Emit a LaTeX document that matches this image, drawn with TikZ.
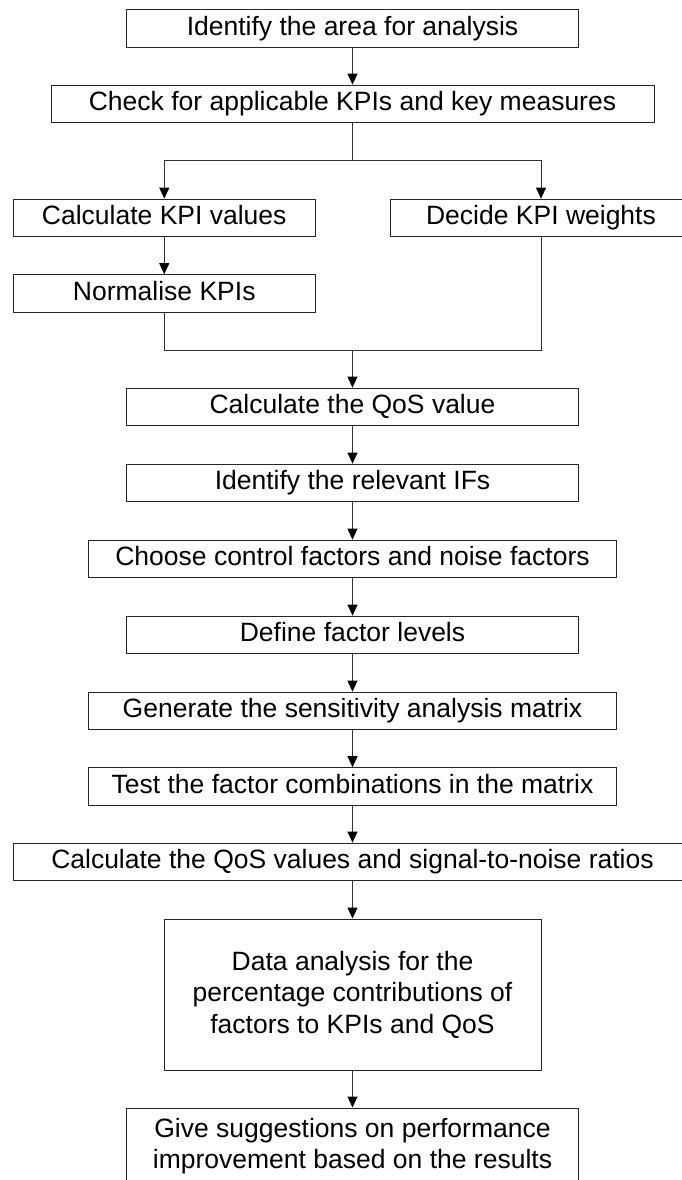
\documentclass[tikz,border=0pt]{standalone}
\usepackage{fontspec}
\setmainfont{Liberation Sans}
\usetikzlibrary{arrows.meta}
\begin{document}
\begin{tikzpicture}[x=1pt,y=-1pt,
  box/.style={draw=black!85, line width=1pt, rectangle, inner sep=0pt,
    minimum height=37.7pt, align=center,
    font=\fontsize{26.5}{31.5}\selectfont},
  onerow/.style={box, text height=19.3pt, text depth=5.6pt},
  link/.style={draw=black!80, line width=1pt},
  arr/.style={link, -{Triangle[length=11pt,width=10pt,color=black]}}]
\clip (0,0) rectangle (682,1180);
\useasboundingbox (0,0) rectangle (682,1180);
% main column of steps
\node[onerow, minimum width=452.5pt] (id) at (352.5,28.2) {Identify the area for analysis};
\node[onerow, minimum width=603pt] (check) at (352.5,104) {Check for applicable KPIs and key measures};
\node[onerow, minimum width=301.5pt] (calc) at (164.25,218) {Calculate KPI values};
\node[onerow, minimum width=301.5pt] (decide) at (541,218) {Decide KPI weights};
\node[onerow, minimum width=301.5pt] (norm) at (164.25,293.5) {Normalise KPIs};
\node[onerow, minimum width=452.5pt] (qos) at (352.5,407) {Calculate the QoS value};
\node[onerow, minimum width=452.5pt] (ifs) at (352.5,483) {Identify the relevant IFs};
\node[onerow, minimum width=528pt] (choose) at (352.5,559) {Choose control factors and noise factors};
\node[onerow, minimum width=452.5pt] (levels) at (352.5,635) {Define factor levels};
\node[onerow, minimum width=528pt] (gen) at (352.5,711) {Generate the sensitivity analysis matrix};
\node[onerow, minimum width=528pt] (test) at (352.5,786.5) {Test the factor combinations in the matrix};
\node[onerow, minimum width=678.5pt] (snr) at (352.5,862) {Calculate the QoS values and signal-to-noise ratios};
\node[box, minimum width=377pt, minimum height=151pt] (data) at (352.5,994.5) {Data analysis for the\\percentage contributions of\\factors to KPIs and QoS};
\node[box, minimum width=452.5pt, minimum height=76pt] (give) at (352.5,1146) {Give suggestions on performance\\improvement based on the results};
% fork and join points
\coordinate (fork) at (352.5,160.5);
\coordinate (join) at (352.5,350);
% connectors
\draw[arr] (id) -- (check);
\draw[link] (check) -- (fork);
\draw[arr] (fork) -| (calc.north);
\draw[arr] (fork) -| (decide.north);
\draw[arr] (calc) -- (norm);
\draw[link] (norm.south) -- (norm.south |- join) -- (decide.south |- join) -- (decide.south);
\draw[arr] (join) -- (qos);
\draw[arr] (qos) -- (ifs);
\draw[arr] (ifs) -- (choose);
\draw[arr] (choose) -- (levels);
\draw[arr] (levels) -- (gen);
\draw[arr] (gen) -- (test);
\draw[arr] (test) -- (snr);
\draw[arr] (snr) -- (data);
\draw[arr] (data) -- (give);
\end{tikzpicture}
\end{document}
